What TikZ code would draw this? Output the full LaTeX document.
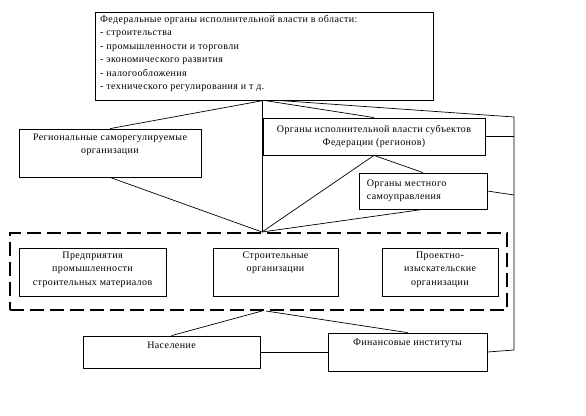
\documentclass[tikz,border=0pt]{standalone}
\usepackage{fontspec}
\setmainfont[LetterSpace=4]{Liberation Serif}
\begin{document}
\begin{tikzpicture}[x=1pt,y=-1pt,
  box/.style={draw,line width=0.8pt,inner sep=0pt,minimum width=#1},
  lab/.style={font=\fontsize{10}{13.5}\selectfont,align=center,inner sep=0pt},
  conn/.style={line width=0.7pt}]
\useasboundingbox (0,0) rectangle (586,415);
% top box
\node[box=338,minimum height=88] (top) at (264,56) {};
\node[lab,align=left,anchor=north west] (toptext) at (100,15) {Федеральные органы исполнительной власти в области:\\- строительства\\- промышленности и торговли\\- экономического развития\\- налогообложения\\- технического регулирования и т д.};
% regional
\node[box=182,minimum height=48,label={[lab,anchor=north,yshift=-5pt]north:{Региональные саморегулируемые\\организации}}] (reg) at (110,153) {};
% organs
\node[box=222,minimum height=37] (org) at (374,136.5) {\fontsize{10}{13.5}\selectfont\begin{tabular}{@{}c@{}}Органы исполнительной власти субъектов\\Федерации (регионов)\end{tabular}};
% local
\node[box=128,minimum height=36,label={[lab,align=left,anchor=west,xshift=8pt]west:{Органы местного\\самоуправления}}] (loc) at (423,191) {};
% dashed group
\node[draw,line width=2.8pt,dash pattern=on 14pt off 6pt,minimum width=497,minimum height=77,inner sep=0pt] (grp) at (258.5,271.5) {};
% inner boxes
\node[box=147,minimum height=48,label={[lab,anchor=north,yshift=-4pt]north:{Предприятия\\промышленности\\строительных материалов}}] (ent) at (92.5,272) {};
\node[box=125,minimum height=48,label={[lab,anchor=north,yshift=-4pt]north:{Строительные\\организации}}] (con) at (275.5,272) {};
\node[box=116,minimum height=48,label={[lab,anchor=north,yshift=-4pt]north:{Проектно-\\изыскательские\\организации}}] (prj) at (440,272) {};
% bottom
\node[box=177,minimum height=32,label={[lab,anchor=north,yshift=-6pt]north:{Население}}] (pop) at (171.5,352) {};
\node[box=159,minimum height=38,label={[lab,anchor=north,yshift=-6pt]north:{Финансовые институты}}] (fin) at (407.5,352) {};
% coordinates
\coordinate (hub) at (262,232);
\coordinate (hubb) at (262,311);
\coordinate (rt) at (514,117);
\coordinate (rb) at (514,350);
% connectors
\draw[conn] (top.south) -- (reg.north);
\draw[conn] (top.south) -- (org.north);
\draw[conn] ([xshift=14pt]top.south) -- (rt) -- (rb) -- (fin.east);
\draw[conn] (top.south -| hub) -- (hub);
\draw[conn] (reg.south) -- (hub);
\draw[conn] (org.south) -- (hub);
\draw[conn] (org.south) -- (loc.north);
\draw[conn] (loc.south) -- (hub);
\draw[conn] (org.east) -- (org.east -| rt);
\draw[conn] (loc.east) -- ([yshift=-4pt]loc.east -| rt);
\draw[conn] (pop.north) -- (hubb);
\draw[conn] (fin.north) -- ([xshift=4pt]hubb);
\draw[conn] (pop.east) -- (fin.west);
\end{tikzpicture}
\end{document}
